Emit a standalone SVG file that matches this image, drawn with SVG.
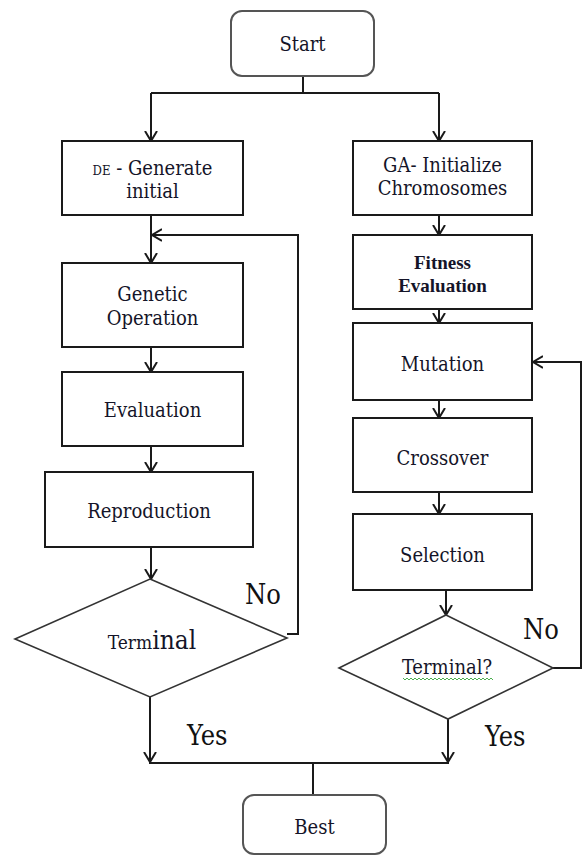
<svg xmlns="http://www.w3.org/2000/svg" width="584" height="856" viewBox="0 0 584 856">
<defs>
<marker id="arr" markerUnits="userSpaceOnUse" markerWidth="14" markerHeight="16" refX="10" refY="6.5" orient="auto">
<path d="M0,0.5 L10,6.5 L0,12.5" fill="none" stroke="#1a1a1a" stroke-width="2"/>
</marker>
</defs>
<style>
.box{fill:#fff;stroke:#1a1a1a;stroke-width:2}
.rbox{fill:#fff;stroke:#555;stroke-width:2}
.dia{fill:#fff;stroke:#333;stroke-width:1.6}
.t{font-family:'DejaVu Serif Condensed','DejaVu Serif',serif;font-size:20px;fill:#141428;text-anchor:middle}
.tb{font-family:'Liberation Serif','Times New Roman',serif;font-size:19px;font-weight:bold;fill:#141428;text-anchor:middle}
.lbl{font-family:'DejaVu Serif Condensed','DejaVu Serif',serif;font-size:27px;fill:#111}
.c{fill:none;stroke:#1a1a1a;stroke-width:2}
.ca{fill:none;stroke:#1a1a1a;stroke-width:2;marker-end:url(#arr)}
</style>
<rect width="584" height="856" fill="#fff"/>
<g id="connectors">
<path class="c" d="M303,76 V93"/>
<path class="c" d="M151,93 H439"/>
<path class="ca" d="M151,93 V141"/>
<path class="ca" d="M439,93 V141"/>
<path class="ca" d="M151,215 V263"/>
<path class="ca" d="M287,634 H298 V235 H152"/>
<path class="ca" d="M151,347 V372"/>
<path class="ca" d="M151,446 V472"/>
<path class="ca" d="M151,547 V579"/>
<path class="ca" d="M439,215 V235"/>
<path class="ca" d="M439,309 V323"/>
<path class="ca" d="M439,400 V418"/>
<path class="ca" d="M439,492 V514"/>
<path class="ca" d="M446,590 V615"/>
<path class="ca" d="M553,668 H581 V362 H533"/>
<path class="ca" d="M150,690 V762"/>
<path class="ca" d="M448,719 V762"/>
<path class="c" d="M149,763 H449"/>
<path class="c" d="M313,763 V795"/>
</g>
<g id="start">
<rect class="rbox" x="231" y="11" width="143" height="65" rx="11"/>
<text class="t" x="302.5" y="51" font-size="21">Start</text>
</g>
<g id="de-init">
<rect class="box" x="62" y="141" width="181" height="74"/>
<text class="t" x="152.5" y="175"><tspan font-size="13">DE</tspan> - Generate</text>
<text class="t" x="152.5" y="198">initial</text>
</g>
<g id="genetic-operation">
<rect class="box" x="62" y="263" width="181" height="84"/>
<text class="t" x="152.5" y="301">Genetic</text>
<text class="t" x="152.5" y="325">Operation</text>
</g>
<g id="evaluation">
<rect class="box" x="62" y="372" width="181" height="74"/>
<text class="t" x="152.5" y="417">Evaluation</text>
</g>
<g id="reproduction">
<rect class="box" x="45" y="472" width="208" height="75"/>
<text class="t" x="149" y="518">Reproduction</text>
</g>
<g id="terminal-left">
<polygon class="dia" points="150,579 287,638 150,697 15,639"/>
<text class="t" x="152" y="649"><tspan font-size="19">Term</tspan><tspan font-size="26">inal</tspan></text>
</g>
<g id="ga-init">
<rect class="box" x="353" y="141" width="179" height="74"/>
<text class="t" x="442.5" y="172" font-size="17">GA- Initialize</text>
<text class="t" x="442.5" y="195" font-size="17">Chromosomes</text>
</g>
<g id="fitness">
<rect class="box" x="353" y="235" width="179" height="74"/>
<text class="tb" x="442.5" y="269">Fitness</text>
<text class="tb" x="442.5" y="292">Evaluation</text>
</g>
<g id="mutation">
<rect class="box" x="353" y="323" width="179" height="77"/>
<text class="t" x="442.5" y="371">Mutation</text>
</g>
<g id="crossover">
<rect class="box" x="353" y="418" width="179" height="74"/>
<text class="t" x="442.5" y="465">Crossover</text>
</g>
<g id="selection">
<rect class="box" x="353" y="514" width="179" height="76"/>
<text class="t" x="442.5" y="562">Selection</text>
</g>
<g id="terminal-right">
<polygon class="dia" points="446,615 553,668 448,719 339,668"/>
<text class="t" x="447" y="674" font-size="18">Terminal?</text>
<path d="M403,678 l2,2 l2,-2 l2,2 l2,-2 l2,2 l2,-2 l2,2 l2,-2 l2,2 l2,-2 l2,2 l2,-2 l2,2 l2,-2 l2,2 l2,-2 l2,2 l2,-2 l2,2 l2,-2 l2,2 l2,-2 l2,2 l2,-2 l2,2 l2,-2 l2,2 l2,-2 l2,2 l2,-2 l2,2 l2,-2 l2,2 l2,-2 l2,2 l2,-2 l2,2 l2,-2 l2,2 l2,-2 l2,2 l2,-2 l2,2 l2,-2 l2,2" fill="none" stroke="#4caf50" stroke-width="1"/>
</g>
<g id="best">
<rect class="rbox" x="243" y="795" width="143" height="59" rx="11"/>
<text class="t" x="314.5" y="834" font-size="21">Best</text>
</g>
<g id="labels">
<text class="lbl" x="245" y="604">No</text>
<text class="lbl" x="523" y="639">No</text>
<text class="lbl" x="187" y="745">Yes</text>
<text class="lbl" x="485" y="746">Yes</text>
</g>
</svg>
